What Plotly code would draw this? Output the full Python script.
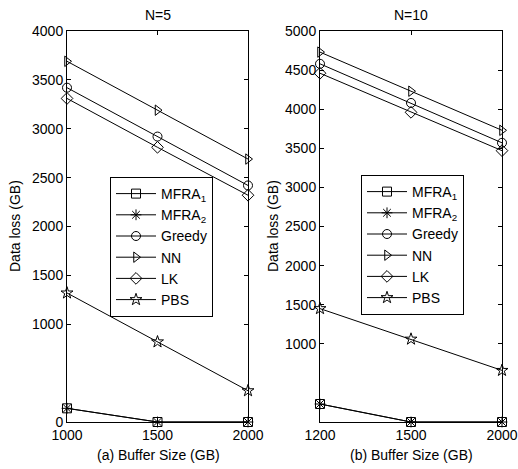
import plotly.graph_objects as go

W, H = 518, 469

series_names = ["MFRA<sub>1</sub>", "MFRA<sub>2</sub>", "Greedy", "NN", "LK", "PBS"]
symbols = ["square-open", "asterisk-open", "circle-open", "triangle-right-open", "diamond-open", "star-open"]

x_labels_a = ["1000", "1500", "2000"]
x_labels_b = ["1200", "1500", "2000"]

mfra1_a = [140, 0, 0]
mfra2_a = [140, 0, 0]
greedy_a = [3420, 2920, 2420]
nn_a = [3690, 3190, 2690]
lk_a = [3310, 2810, 2320]
pbs_a = [1320, 820, 320]

mfra1_b = [230, 0, 0]
mfra2_b = [230, 0, 0]
greedy_b = [4580, 4080, 3570]
nn_b = [4730, 4230, 3730]
lk_b = [4460, 3960, 3470]
pbs_b = [1450, 1060, 660]

yticks_a = [0, 1000, 1500, 2000, 2500, 3000, 3500, 4000]
yticks_b = [1000, 1500, 2000, 2500, 3000, 3500, 4000, 4500, 5000]

data_a = [mfra1_a, mfra2_a, greedy_a, nn_a, lk_a, pbs_a]
data_b = [mfra1_b, mfra2_b, greedy_b, nn_b, lk_b, pbs_b]

fig = go.Figure()
xpos = list(range(3))
for name, sym, ys in zip(series_names, symbols, data_a):
    fig.add_trace(go.Scatter(x=xpos, y=ys, name=name, mode="lines+markers",
                             line=dict(color="black", width=1),
                             marker=dict(symbol=sym, size=9, color="black", line=dict(width=1, color="black")),
                             cliponaxis=False, xaxis="x", yaxis="y", legend="legend"))
for name, sym, ys in zip(series_names, symbols, data_b):
    fig.add_trace(go.Scatter(x=xpos, y=ys, name=name, mode="lines+markers",
                             line=dict(color="black", width=1),
                             marker=dict(symbol=sym, size=9, color="black", line=dict(width=1, color="black")),
                             cliponaxis=False, xaxis="x2", yaxis="y2", legend="legend2"))

font = dict(family="Liberation Sans, Arial, sans-serif", size=14, color="black")

def px(x):
    return x / W

def py(y):
    return (H - y) / H

axis_common = dict(showline=True, linecolor="black", linewidth=1, mirror="ticks",
                   ticks="inside", ticklen=4, tickcolor="black", showgrid=False,
                   zeroline=False, tickfont=font, automargin=False)

legend_common = dict(xanchor="left", yanchor="top", bordercolor="black", borderwidth=1,
                     bgcolor="white", font=font, tracegroupgap=0, itemwidth=40)

def ann(text, x, y, angle=0):
    return dict(text=text, x=px(x), y=py(y), xref="paper", yref="paper", showarrow=False,
                font=font, textangle=angle, xanchor="center", yanchor="middle")

fig.update_layout(
    width=W, height=H,
    margin=dict(l=0, r=0, t=0, b=0),
    paper_bgcolor="white", plot_bgcolor="white",
    font=font,
    xaxis=dict(domain=[px(67), px(248)], range=[0, 2], tickvals=xpos, ticktext=x_labels_a,
               anchor="y", **axis_common),
    yaxis=dict(domain=[py(422), py(31)], range=[0, 4000], tickvals=yticks_a,
               anchor="x", **axis_common),
    xaxis2=dict(domain=[px(320), px(502)], range=[0, 2], tickvals=xpos, ticktext=x_labels_b,
                anchor="y2", **axis_common),
    yaxis2=dict(domain=[py(422), py(31)], range=[0, 5000], tickvals=yticks_b,
                anchor="x2", **axis_common),
    legend=dict(x=px(110), y=py(177), **legend_common),
    legend2=dict(x=px(361), y=py(175), **legend_common),
    annotations=[
        ann("N=5", 158, 15),
        ann("N=10", 411, 15),
        ann("(a) Buffer Size (GB)", 158, 455),
        ann("(b) Buffer Size (GB)", 411, 455),
        ann("Data loss (GB)", 15, 226, -90),
        ann("Data loss (GB)", 273, 226, -90),
    ],
)

fig.write_html("out.html")
